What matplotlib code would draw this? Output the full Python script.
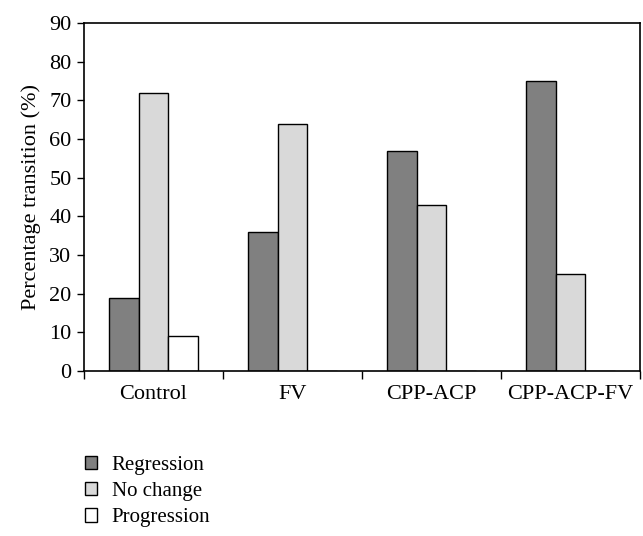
import matplotlib
matplotlib.use("Agg")
import matplotlib.pyplot as plt
import numpy as np
from matplotlib.patches import Patch

plt.rcParams['font.family'] = ['Liberation Serif', 'DejaVu Serif']

categories = ["Control", "FV", "CPP-ACP", "CPP-ACP-FV"]
series_names = ["Regression", "No change", "Progression"]
regression = [19, 36, 57, 75]
no_change = [72, 64, 43, 25]
progression = [9, 0, 0, 0]
colors = ["#808080", "#d9d9d9", "#ffffff"]

fig = plt.figure(figsize=(6.43, 5.36), dpi=100)
ax = fig.add_axes([84/643, 1-371/536, (640-84)/643, (371-23)/536])

x = np.arange(len(categories))
w = 0.215
for i, (vals, c, name) in enumerate(zip([regression, no_change, progression], colors, series_names)):
    ax.bar(x + (i-1)*w, vals, width=w, color=c, edgecolor="black", linewidth=1.0, label=name)

ax.set_xlim(-0.5, len(categories)-0.5)
ax.set_ylim(0, 90)
ax.set_yticks(range(0, 91, 10))
ax.tick_params(axis='y', labelsize=16, direction='out', length=5, width=1, pad=4)
ax.set_xticks(np.arange(len(categories)+1) - 0.5)
ax.set_xticklabels([])
ax.set_xticks(x, minor=True)
ax.set_xticklabels(categories, minor=True, fontsize=16)
ax.tick_params(axis='x', which='major', direction='out', length=6, width=1)
ax.tick_params(axis='x', which='minor', length=0, pad=10)
ax.set_ylabel("Percentage transition (%)", fontsize=16, labelpad=6)
for s in ax.spines.values():
    s.set_linewidth(1.2)

handles = [Patch(facecolor=c, edgecolor="black", linewidth=1.0) for c in colors]
fig.legend(handles, series_names, loc="upper left", bbox_to_anchor=(66/643, 1-437/536),
           frameon=False, fontsize=15, handlelength=0.6, handleheight=0.6,
           handletextpad=0.7, labelspacing=0.35)

fig.savefig("out.png", dpi=100)
